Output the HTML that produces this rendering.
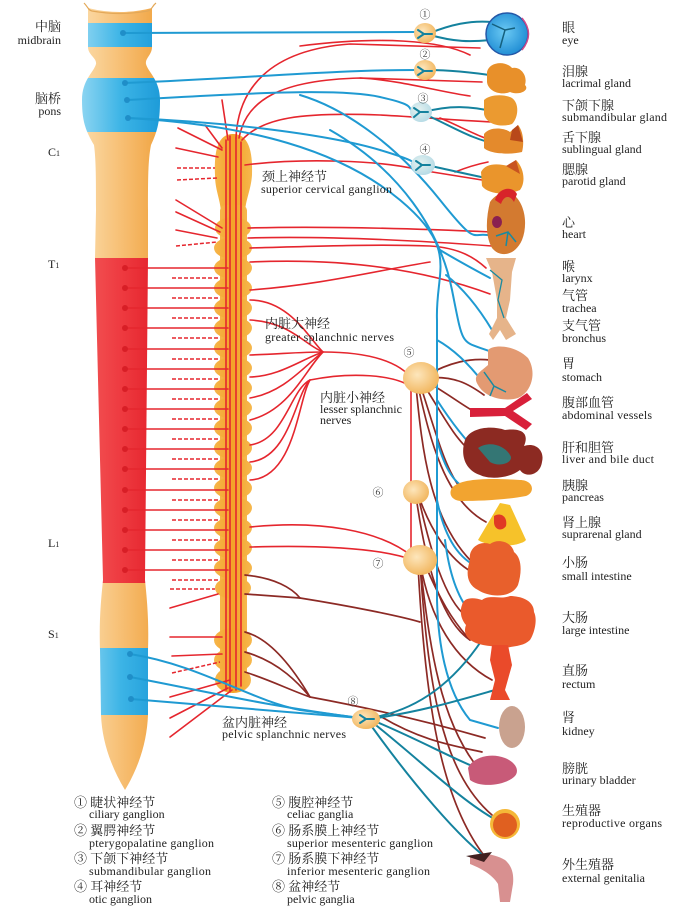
<!DOCTYPE html>
<html><head><meta charset="utf-8">
<style>
html,body{margin:0;padding:0;background:#fff;}
svg{display:block;}
.en{font-family:"Liberation Serif","Noto Serif CJK SC",serif;font-size:12px;fill:#222;}
.zh{font-family:"Liberation Serif","Noto Serif CJK SC","Noto Sans CJK SC",serif;font-size:13px;fill:#222;}
.num{font-family:"Liberation Serif","Noto Serif CJK SC",serif;font-size:11px;fill:#333;}
.b{fill:none;stroke:#1f9ad2;stroke-width:2;stroke-linecap:round;}
.t{fill:none;stroke:#14829e;stroke-width:2;stroke-linecap:round;}
.r{fill:none;stroke:#e5262e;stroke-width:1.6;stroke-linecap:round;}
.rd{fill:none;stroke:#e5262e;stroke-width:1.5;stroke-dasharray:4 2;}
.br{fill:none;stroke:#8c2a25;stroke-width:1.7;stroke-linecap:round;}
</style></head>
<body>
<svg width="698" height="914" viewBox="0 0 698 914" xmlns="http://www.w3.org/2000/svg">
<defs>
<linearGradient id="gO" gradientUnits="userSpaceOnUse" x1="80" y1="0" x2="162" y2="0">
<stop offset="0" stop-color="#fbdcaa"/><stop offset="0.5" stop-color="#f7bf74"/><stop offset="1" stop-color="#f0a23e"/></linearGradient>
<linearGradient id="gB" gradientUnits="userSpaceOnUse" x1="80" y1="0" x2="162" y2="0">
<stop offset="0" stop-color="#8fd6f2"/><stop offset="0.5" stop-color="#3cb4e6"/><stop offset="1" stop-color="#1c9ad8"/></linearGradient>
<linearGradient id="gR" gradientUnits="userSpaceOnUse" x1="80" y1="0" x2="162" y2="0">
<stop offset="0" stop-color="#f25858"/><stop offset="0.5" stop-color="#ee3a40"/><stop offset="1" stop-color="#e21e28"/></linearGradient>
<radialGradient id="gG" cx="0.4" cy="0.4" r="0.6">
<stop offset="0" stop-color="#fde6bc"/><stop offset="1" stop-color="#f2b862"/></radialGradient>
<radialGradient id="gGb" cx="0.4" cy="0.4" r="0.6">
<stop offset="0" stop-color="#e6f2f0"/><stop offset="1" stop-color="#b8dce6"/></radialGradient>
<radialGradient id="gEye" cx="0.45" cy="0.45" r="0.6">
<stop offset="0" stop-color="#6ccaf4"/><stop offset="1" stop-color="#1c8ad2"/></radialGradient>
<linearGradient id="gC" x1="0" y1="0" x2="1" y2="0">
<stop offset="0" stop-color="#f6b64a"/><stop offset="0.5" stop-color="#f4a228"/><stop offset="1" stop-color="#f6b84e"/></linearGradient>
<clipPath id="colClip"><path d="M88,8 Q120,16 152,8 L152,47 C152,55 145,58 146,64 C148,72 160,80 160,100 C160,120 158,130 151,145 C148,160 148,180 148,210 L148,258 L145,580 C147,600 149,620 148,650 L148,715 C147,740 140,765 125,790 C110,765 102,740 101,715 L100,650 C99,620 101,600 103,580 L95,258 L96,210 C96,180 96,160 94,145 C85,130 82,120 82,100 C82,80 94,72 96,64 C97,58 88,55 88,47 Z"/></clipPath>
</defs>

<!-- spinal column -->
<g clip-path="url(#colClip)">
<rect x="78" y="0" width="86" height="23" fill="url(#gO)"/>
<rect x="78" y="23" width="86" height="24" fill="url(#gB)"/>
<rect x="78" y="47" width="86" height="31" fill="url(#gO)"/>
<rect x="78" y="78" width="86" height="54" fill="url(#gB)"/>
<rect x="78" y="132" width="86" height="126" fill="url(#gO)"/>
<rect x="78" y="258" width="86" height="325" fill="url(#gR)"/>
<rect x="78" y="583" width="86" height="65" fill="url(#gO)"/>
<rect x="78" y="648" width="86" height="67" fill="url(#gB)"/>
<rect x="78" y="715" width="86" height="80" fill="url(#gO)"/>
</g>
<path d="M84,3 C88,7 88,10 92,11 Q120,16 148,11 C152,10 152,6 156,3" fill="none" stroke="#e3a858" stroke-width="1.2"/>

<!-- sympathetic chain -->
<g fill="url(#gC)">
<path d="M233,134 C248,134 253,150 252,175 C251,190 246,198 245,212 L221,212 C220,198 215,190 215,175 C214,150 218,134 233,134 Z"/>
<rect x="220" y="205" width="27" height="485" rx="6"/>
<ellipse cx="233" cy="228" rx="18" ry="11"/><ellipse cx="233" cy="248" rx="19" ry="11"/>
<ellipse cx="233" cy="268" rx="19" ry="11"/><ellipse cx="233" cy="288" rx="19" ry="11"/>
<ellipse cx="233" cy="308" rx="19" ry="11"/><ellipse cx="233" cy="328" rx="19" ry="11"/>
<ellipse cx="233" cy="348" rx="19" ry="11"/><ellipse cx="233" cy="368" rx="19" ry="11"/>
<ellipse cx="233" cy="388" rx="19" ry="11"/><ellipse cx="233" cy="408" rx="19" ry="11"/>
<ellipse cx="233" cy="428" rx="19" ry="11"/><ellipse cx="233" cy="448" rx="19" ry="11"/>
<ellipse cx="233" cy="468" rx="19" ry="11"/><ellipse cx="233" cy="488" rx="19" ry="11"/>
<ellipse cx="233" cy="508" rx="19" ry="11"/><ellipse cx="233" cy="528" rx="19" ry="11"/>
<ellipse cx="233" cy="548" rx="19" ry="11"/><ellipse cx="233" cy="568" rx="19" ry="11"/>
<ellipse cx="233" cy="588" rx="18" ry="11"/>
<ellipse cx="233" cy="640" rx="19" ry="12"/><ellipse cx="233" cy="660" rx="19" ry="12"/>
<ellipse cx="233" cy="680" rx="18" ry="13"/>
</g>
<g class="r" stroke-width="1.3">
<path d="M226,140 L226,690"/><path d="M230,136 L230,692"/><path d="M236,138 L236,690"/><path d="M241,142 L241,686"/>
</g>

<!-- left red rami from chain -->
<g>
<path class="r" d="M178,128 L222,150"/><path class="r" d="M176,148 L218,157"/>
<path class="rd" d="M177,168 L215,168"/><path class="rd" d="M177,180 L217,178"/>
<path class="r" d="M176,200 L222,228"/><path class="r" d="M176,212 L220,232"/>
<path class="r" d="M176,230 L217,238"/><path class="rd" d="M176,246 L217,242"/>
<path class="r" d="M222,100 L228,140"/><path class="r" d="M205,125 L222,148"/>
</g>
<g>
<path class="r" d="M125,268 L228,268"/><path class="rd" d="M172,278 L220,278"/>
<path class="r" d="M125,288 L228,288"/><path class="rd" d="M172,298 L220,298"/>
<path class="r" d="M125,308 L228,308"/><path class="rd" d="M172,318 L220,318"/>
<path class="r" d="M125,328 L228,328"/><path class="rd" d="M172,338 L220,338"/>
<path class="r" d="M125,349 L228,349"/><path class="rd" d="M172,359 L220,359"/>
<path class="r" d="M125,369 L228,369"/><path class="rd" d="M172,379 L220,379"/>
<path class="r" d="M125,389 L228,389"/><path class="rd" d="M172,399 L220,399"/>
<path class="r" d="M125,409 L228,409"/><path class="rd" d="M172,419 L220,419"/>
<path class="r" d="M125,429 L228,429"/><path class="rd" d="M172,439 L220,439"/>
<path class="r" d="M125,449 L228,449"/><path class="rd" d="M172,459 L220,459"/>
<path class="r" d="M125,469 L228,469"/><path class="rd" d="M172,479 L220,479"/>
<path class="r" d="M125,490 L228,490"/><path class="rd" d="M172,500 L220,500"/>
<path class="r" d="M125,510 L228,510"/><path class="rd" d="M172,520 L220,520"/>
<path class="r" d="M125,530 L228,530"/><path class="rd" d="M172,540 L220,540"/>
<path class="r" d="M125,550 L228,550"/><path class="rd" d="M172,560 L220,560"/>
<path class="r" d="M125,570 L228,570"/><path class="rd" d="M172,580 L220,580"/>
<path class="rd" d="M170,589 L215,589"/><path class="r" d="M170,608 L218,594"/>
<path class="r" d="M170,637 L222,637"/><path class="r" d="M172,656 L222,654"/>
<path class="rd" d="M172,673 L220,662"/><path class="r" d="M170,697 L230,680"/>
<path class="r" d="M170,718 L228,688"/><path class="r" d="M170,737 L232,690"/>
</g>
<g fill="#d81e26">
<circle cx="125" cy="268" r="3"/><circle cx="125" cy="288" r="3"/><circle cx="125" cy="308" r="3"/><circle cx="125" cy="328" r="3"/>
<circle cx="125" cy="349" r="3"/><circle cx="125" cy="369" r="3"/><circle cx="125" cy="389" r="3"/><circle cx="125" cy="409" r="3"/>
<circle cx="125" cy="429" r="3"/><circle cx="125" cy="449" r="3"/><circle cx="125" cy="469" r="3"/><circle cx="125" cy="490" r="3"/>
<circle cx="125" cy="510" r="3"/><circle cx="125" cy="530" r="3"/><circle cx="125" cy="550" r="3"/><circle cx="125" cy="570" r="3"/>
</g>

<!-- red sympathetic to head -->
<path class="r" d="M236,138 C238,90 268,50 350,44 L480,48"/>
<path class="r" d="M239,138 C246,100 280,80 360,78 L482,82"/>
<path class="r" d="M360,78 C400,80 440,92 470,96"/>
<path class="r" d="M242,140 C262,118 300,112 380,115 C420,117 450,120 492,122"/>
<path class="r" d="M440,118 C460,126 480,138 498,142"/>
<path class="r" d="M245,165 C300,158 380,160 420,170 L482,180"/>
<path class="r" d="M455,172 C465,168 478,164 488,162"/>
<path class="r" d="M300,46 C380,36 440,40 470,55"/>
<!-- heart / lungs -->
<path class="r" d="M248,228 C320,226 400,228 492,232"/>
<path class="r" d="M248,238 C320,236 410,240 492,246"/>
<path class="r" d="M250,248 C320,246 380,244 430,246 C460,248 475,258 486,268"/>
<path class="r" d="M250,262 C340,258 420,268 490,294"/>
<path class="r" d="M250,290 C320,285 380,270 430,262"/>
<!-- greater splanchnic -->
<path class="r" d="M250,300 C290,300 310,340 323,352"/>
<path class="r" d="M250,320 C290,322 305,345 323,352"/>
<path class="r" d="M250,355 C280,354 300,352 323,352"/>
<path class="r" d="M250,377 C280,376 300,360 323,352"/>
<path class="r" d="M250,398 C285,392 305,365 323,352"/>
<path class="r" d="M250,420 C290,410 305,370 323,352"/>
<path class="r" d="M323,352 C370,352 400,362 413,380"/>
<!-- lesser splanchnic -->
<path class="r" d="M250,445 C285,440 290,390 310,380"/>
<path class="r" d="M250,462 C290,458 295,395 310,380"/>
<path class="r" d="M250,480 C295,478 298,400 310,380"/>
<path class="r" d="M310,380 C350,372 395,374 413,388"/>
<!-- to inferior mesenteric -->
<path class="r" d="M250,527 C320,520 380,530 413,557"/>
<path class="r" d="M250,547 C320,545 380,548 413,560"/>
<path class="r" d="M411,384 L411,560"/>

<!-- brown postganglionic -->
<g class="br">
<path d="M425,376 C450,362 470,358 490,360"/>
<path d="M425,378 C455,375 470,385 484,395"/>
<path d="M424,380 C450,395 462,405 475,412"/>
<path d="M422,382 C440,410 455,440 472,452"/>
<path d="M420,384 C435,430 445,470 462,490"/>
<path d="M418,386 C430,440 445,500 486,522"/>
<path d="M416,386 C422,450 430,520 472,562"/>
<path d="M418,494 C430,530 450,560 472,572"/>
<path d="M418,495 C430,550 445,600 466,616"/>
<path d="M416,496 C425,560 440,620 470,640"/>
<path d="M420,562 C430,620 455,660 492,680"/>
<path d="M420,563 C430,650 440,720 478,768"/>
<path d="M420,564 C428,680 440,770 492,815"/>
<path d="M418,565 C425,700 440,800 486,858"/>
<path d="M424,562 C440,600 452,620 470,640"/>
<path d="M245,575 C275,578 292,588 300,598"/>
<path d="M245,594 L300,598"/>
<path d="M300,598 C350,606 400,616 420,622"/>
<path d="M245,632 C275,640 300,680 310,697"/>
<path d="M245,652 C280,662 300,685 310,697"/>
<path d="M245,672 C270,680 290,690 310,697"/>
<path d="M310,697 C380,710 440,725 485,738"/>
<path d="M380,716 C420,740 450,745 482,752"/>
</g>

<!-- blue parasympathetic -->
<path class="b" d="M123,33 L416,32"/>
<path class="b" d="M125,83 C250,78 330,70 416,70"/>
<path class="b" d="M127,100 C250,93 340,88 380,97 S405,108 414,112"/>
<path class="b" d="M128,118 C230,122 330,135 380,150 S405,162 414,165"/>
<path class="b" d="M128,118 C250,125 340,150 400,200 S435,270 437,320 L437,600 C438,640 445,690 470,720 L498,728"/>
<path class="b" d="M300,95 C350,110 400,150 440,200 S470,230 492,236"/>
<path class="b" d="M330,130 C400,170 440,230 452,290 S460,340 492,352"/>
<path class="b" d="M440,250 C460,262 475,270 490,278"/>
<path class="b" d="M446,275 C465,290 480,310 492,330"/>
<path class="b" d="M437,340 C455,350 470,365 485,385"/>
<path class="b" d="M437,400 C450,420 465,440 478,452"/>
<path class="b" d="M437,440 C445,470 455,485 470,490"/>
<path class="b" d="M437,500 C445,540 460,560 480,568"/>
<path class="b" d="M445,540 C450,580 460,600 470,612"/>
<path class="b" d="M130,654 C200,665 250,700 300,710 L360,718"/>
<path class="b" d="M130,677 C200,690 260,705 360,718"/>
<path class="b" d="M131,699 C200,705 280,712 360,718"/>
<path class="t" d="M370,718 C420,710 455,680 482,640"/>
<path class="t" d="M370,719 C420,712 460,700 495,690"/>
<path class="t" d="M372,720 C420,740 455,760 482,770"/>
<path class="t" d="M372,722 C420,760 460,800 496,820"/>
<path class="t" d="M370,724 C410,780 460,840 492,862"/>
<g fill="#1f8ec8">
<circle cx="123" cy="33" r="3"/><circle cx="125" cy="83" r="3"/><circle cx="127" cy="100" r="3"/><circle cx="128" cy="118" r="3"/>
<circle cx="130" cy="654" r="3"/><circle cx="130" cy="677" r="3"/><circle cx="131" cy="699" r="3"/>
</g>
<!-- teal from head ganglia -->
<path class="t" d="M430,33 C450,25 470,20 492,22"/>
<path class="t" d="M430,35 C455,42 470,42 490,40"/>
<path class="t" d="M428,70 C450,70 470,72 496,76"/>
<path class="t" d="M424,112 C450,105 470,106 496,112"/>
<path class="t" d="M424,114 C450,125 472,140 498,144"/>
<path class="t" d="M426,165 C450,170 470,175 496,180"/>

<!-- ganglia -->
<ellipse cx="425" cy="33" rx="11" ry="10" fill="url(#gG)"/>
<ellipse cx="425" cy="70" rx="11" ry="10" fill="url(#gG)"/>
<ellipse cx="421" cy="112" rx="11" ry="10" fill="url(#gGb)"/>
<ellipse cx="423" cy="165" rx="12" ry="10" fill="url(#gGb)"/>
<ellipse cx="421" cy="378" rx="18" ry="16" fill="url(#gG)"/>
<ellipse cx="416" cy="492" rx="13" ry="12" fill="url(#gG)"/>
<ellipse cx="420" cy="560" rx="17" ry="15" fill="url(#gG)"/>
<ellipse cx="366" cy="719" rx="14" ry="10" fill="url(#gG)"/>
<g class="t" stroke-width="1.5">
<path d="M418,30 L424,34 L418,38 M424,34 L432,34"/>
<path d="M418,67 L424,71 L418,75 M424,71 L432,71"/>
<path d="M414,108 L420,112 L414,117 M420,112 L428,112"/>
<path d="M416,161 L422,165 L416,170 M422,165 L430,165"/>
<path d="M360,715 L366,719 L360,723 M366,719 L374,719"/>
</g>

<!-- organs -->
<circle cx="507" cy="34" r="21" fill="url(#gEye)" stroke="#2458a8" stroke-width="1.5"/>
<path d="M522,18 Q535,34 522,50" fill="none" stroke="#d04a88" stroke-width="1.5"/>
<path d="M492,24 L505,30 L500,48 M505,30 L515,28" fill="none" stroke="#15607e" stroke-width="1.5"/>
<path d="M487,72 C489,62 505,60 512,68 C520,66 528,75 525,85 C530,90 520,96 510,92 C500,96 488,91 487,82 Z" fill="#e8902a"/>
<path d="M484,100 C490,94 505,94 512,98 C520,104 518,118 512,124 C500,128 486,124 484,114 Z" fill="#eb9a30"/>
<path d="M484,134 C490,126 505,128 510,132 L518,125 C524,132 524,145 522,152 C510,155 490,154 484,148 Z" fill="#e48a2c"/>
<path d="M512,130 L518,125 L523,142 L510,140 Z" fill="#b8481a"/>
<path d="M481,172 C486,162 500,164 508,166 L516,160 C524,168 526,182 520,190 C505,196 488,194 482,186 Z" fill="#ea952c"/>
<path d="M506,166 L516,160 L520,174 Z" fill="#c85420"/>
<path d="M490,202 C486,218 485,236 492,248 C500,258 515,256 522,240 C528,225 525,205 515,196 C508,190 497,192 490,202 Z" fill="#d37a30"/>
<path d="M495,200 C498,188 512,185 517,194 L514,202 C510,195 504,195 501,204 Z" fill="#d8242a"/>
<ellipse cx="497" cy="222" rx="5" ry="6" fill="#8a2050"/>
<path d="M496,236 L508,232 L516,242 M508,232 L506,246" fill="none" stroke="#1a8aa0" stroke-width="1.5"/>
<path d="M486,258 L516,258 L512,272 L510,300 L506,318 L516,334 L506,340 L500,330 L493,340 L489,334 L497,318 L497,300 L492,272 Z" fill="#e6b48a"/>
<path d="M490,270 L502,280 L498,300 L504,318" fill="none" stroke="#1a8aa0" stroke-width="1.3"/>
<path d="M488,350 C494,344 515,345 528,358 C537,372 532,392 518,398 C505,402 485,398 478,385 C472,376 480,372 488,365 Z" fill="#e39a72"/>
<path d="M484,372 L494,386 L506,392 M494,386 L490,396" fill="none" stroke="#1a8aa0" stroke-width="1.5"/>
<path d="M470,408 L505,408 L527,393 L532,399 L513,411 L532,424 L526,430 L505,416 L470,417 Z" fill="#d8203a"/>
<path d="M465,440 C470,428 490,425 505,430 C520,428 530,432 524,446 C535,442 545,450 542,462 C540,476 525,478 520,470 C510,478 490,480 480,475 C465,470 460,455 465,440 Z" fill="#8c2a22"/>
<path d="M478,448 C490,440 505,446 510,455 C515,462 500,468 490,462 Z" fill="#1e8a8a" opacity="0.8"/>
<path d="M452,488 C460,478 490,478 520,480 C533,480 536,492 526,496 C505,500 480,501 462,501 C452,501 448,494 452,488 Z" fill="#f2a430"/>
<path d="M478,540 L500,503 L510,505 L526,540 C520,547 490,548 478,540 Z" fill="#f6c22a"/>
<path d="M494,516 C500,512 508,516 506,526 C502,532 494,530 494,522 Z" fill="#e03a24"/>
<path d="M470,560 C468,548 480,540 490,544 C498,538 512,542 514,552 C522,558 522,572 518,585 C512,598 490,598 478,590 C466,584 466,572 470,560 Z" fill="#e8602c"/>
<path d="M462,605 C464,596 476,598 482,600 C490,594 500,600 510,596 C520,596 534,600 534,612 C538,620 534,634 530,640 C524,646 515,646 505,648 L490,646 C470,644 462,636 466,625 C460,618 460,610 462,605 Z" fill="#ea5a2c"/>
<path d="M492,645 L508,645 L512,665 L505,690 L510,700 L490,700 L495,680 L490,660 Z" fill="#ea4a2a"/>
<ellipse cx="512" cy="727" rx="13" ry="21" fill="#c9a28f"/>
<path d="M468,768 C472,758 490,752 505,758 C515,762 520,770 515,776 C505,786 480,788 470,780 Z" fill="#c85a78"/>
<circle cx="505" cy="824" r="15" fill="#f5b838"/>
<circle cx="505" cy="825" r="12" fill="#e06020"/>
<path d="M470,856 C480,852 495,854 505,860 C512,866 514,874 513,884 L510,902 L500,902 L498,884 C492,874 480,868 470,864 Z" fill="#d89090"/>
<path d="M466,856 L492,852 L484,862 Z" fill="#402020"/>

<!-- left labels -->
<text class="zh" x="61" y="31" text-anchor="end">中脑</text>
<text class="en" x="61" y="44" text-anchor="end">midbrain</text>
<text class="zh" x="61" y="103" text-anchor="end">脑桥</text>
<text class="en" x="61" y="115" text-anchor="end">pons</text>
<text class="en" x="48" y="156" font-size="13">C<tspan font-size="8">1</tspan></text>
<text class="en" x="48" y="268" font-size="13">T<tspan font-size="8">1</tspan></text>
<text class="en" x="48" y="547" font-size="13">L<tspan font-size="8">1</tspan></text>
<text class="en" x="48" y="638" font-size="13">S<tspan font-size="8">1</tspan></text>

<!-- chain labels -->
<text class="zh" x="262" y="181">颈上神经节</text>
<text class="en" x="261" y="193" textLength="131">superior cervical ganglion</text>
<text class="zh" x="265" y="328">内脏大神经</text>
<text class="en" x="265" y="341" textLength="129">greater splanchnic nerves</text>
<text class="zh" x="320" y="402">内脏小神经</text>
<text class="en" x="320" y="413" textLength="82">lesser splanchnic</text>
<text class="en" x="320" y="424">nerves</text>
<text class="zh" x="222" y="727">盆内脏神经</text>
<text class="en" x="222" y="738" textLength="124">pelvic splanchnic nerves</text>

<!-- ganglion numbers -->
<text class="num" x="425" y="18" text-anchor="middle">①</text>
<text class="num" x="425" y="58" text-anchor="middle">②</text>
<text class="num" x="423" y="102" text-anchor="middle">③</text>
<text class="num" x="425" y="153" text-anchor="middle">④</text>
<text class="num" x="409" y="356" text-anchor="middle">⑤</text>
<text class="num" x="378" y="496" text-anchor="middle">⑥</text>
<text class="num" x="378" y="567" text-anchor="middle">⑦</text>
<text class="num" x="353" y="705" text-anchor="middle">⑧</text>

<!-- right labels -->
<text class="zh" x="562" y="32">眼</text><text class="en" x="562" y="44">eye</text>
<text class="zh" x="562" y="76">泪腺</text><text class="en" x="562" y="87">lacrimal gland</text>
<text class="zh" x="562" y="110">下颌下腺</text><text class="en" x="562" y="121" textLength="105">submandibular gland</text>
<text class="zh" x="562" y="142">舌下腺</text><text class="en" x="562" y="153">sublingual gland</text>
<text class="zh" x="562" y="174">腮腺</text><text class="en" x="562" y="185">parotid gland</text>
<text class="zh" x="562" y="227">心</text><text class="en" x="562" y="238">heart</text>
<text class="zh" x="562" y="271">喉</text><text class="en" x="562" y="282">larynx</text>
<text class="zh" x="562" y="300">气管</text><text class="en" x="562" y="312">trachea</text>
<text class="zh" x="562" y="330">支气管</text><text class="en" x="562" y="342">bronchus</text>
<text class="zh" x="562" y="368">胃</text><text class="en" x="562" y="381">stomach</text>
<text class="zh" x="562" y="407">腹部血管</text><text class="en" x="562" y="419" textLength="90">abdominal vessels</text>
<text class="zh" x="562" y="452">肝和胆管</text><text class="en" x="562" y="463" textLength="92">liver and bile duct</text>
<text class="zh" x="562" y="490">胰腺</text><text class="en" x="562" y="501">pancreas</text>
<text class="zh" x="562" y="527">肾上腺</text><text class="en" x="562" y="538">suprarenal gland</text>
<text class="zh" x="562" y="567">小肠</text><text class="en" x="562" y="580">small intestine</text>
<text class="zh" x="562" y="622">大肠</text><text class="en" x="562" y="634">large intestine</text>
<text class="zh" x="562" y="675">直肠</text><text class="en" x="562" y="688">rectum</text>
<text class="zh" x="562" y="722">肾</text><text class="en" x="562" y="735">kidney</text>
<text class="zh" x="562" y="773">膀胱</text><text class="en" x="562" y="784">urinary bladder</text>
<text class="zh" x="562" y="815">生殖器</text><text class="en" x="562" y="827" textLength="100">reproductive organs</text>
<text class="zh" x="562" y="869">外生殖器</text><text class="en" x="562" y="882">external genitalia</text>

<!-- legend -->
<text class="zh" x="74" y="807">① 睫状神经节</text>
<text class="en" x="89" y="818">ciliary ganglion</text>
<text class="zh" x="74" y="835">② 翼腭神经节</text>
<text class="en" x="89" y="847" textLength="125">pterygopalatine ganglion</text>
<text class="zh" x="74" y="863">③ 下颌下神经节</text>
<text class="en" x="89" y="875" textLength="122">submandibular ganglion</text>
<text class="zh" x="74" y="891">④ 耳神经节</text>
<text class="en" x="89" y="903">otic ganglion</text>
<text class="zh" x="272" y="807">⑤ 腹腔神经节</text>
<text class="en" x="287" y="818">celiac ganglia</text>
<text class="zh" x="272" y="835">⑥ 肠系膜上神经节</text>
<text class="en" x="287" y="847" textLength="146">superior mesenteric ganglion</text>
<text class="zh" x="272" y="863">⑦ 肠系膜下神经节</text>
<text class="en" x="287" y="875" textLength="143">inferior mesenteric ganglion</text>
<text class="zh" x="272" y="891">⑧ 盆神经节</text>
<text class="en" x="287" y="903">pelvic ganglia</text>
</svg>
</body></html>
